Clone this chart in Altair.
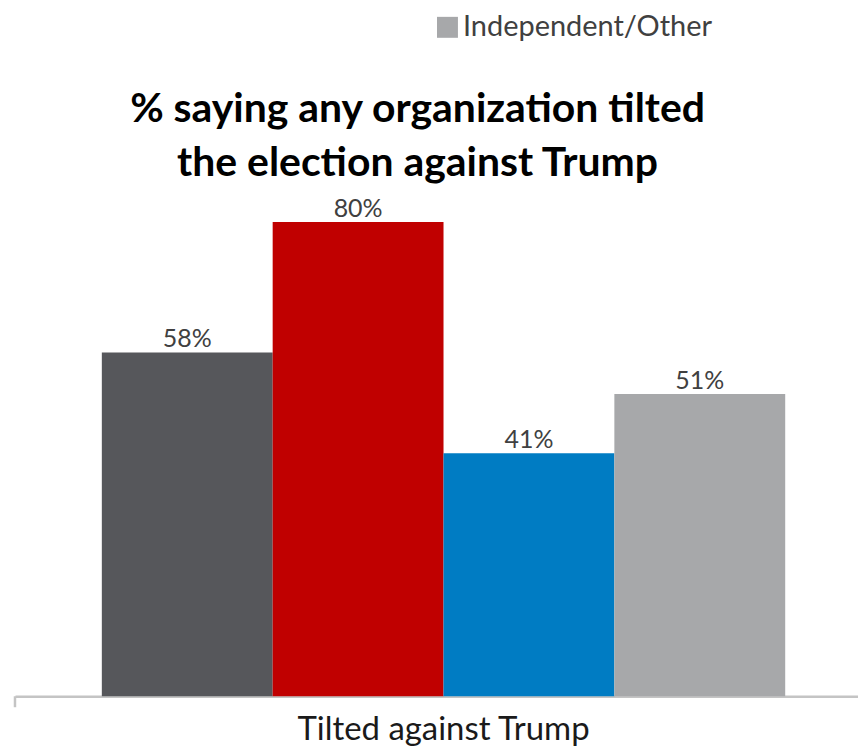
import altair as alt
import pandas as pd

parties = ["Total", "Republican", "Democrat", "Independent/Other"]
values = [58, 80, 41, 51]
labels = ["58%", "80%", "41%", "51%"]
group_label = "Tilted against Trump"
colors = ["#56575b", "#c00000", "#007cc3", "#a7a8aa"]
legend_values = ["Independent/Other"]
title_lines = ["% saying any organization tilted", "the election against Trump"]

df = pd.DataFrame({
    "group": [group_label] * len(parties),
    "party": parties,
    "value": values,
    "label": labels,
})

W, H = 845, 505
FONT = "Lato"

base = alt.Chart(df).encode(
    x=alt.X(
        "group:N",
        scale=alt.Scale(paddingInner=0, paddingOuter=0.1168, align=0.544),
        axis=alt.Axis(
            title=None, labelAngle=0, ticks=False, labelFontSize=33,
            labelFont=FONT, labelColor="#1a1a1a", labelPadding=17,
            labelLimit=0, domainColor="#c4c4c4", domainWidth=2.5,
        ),
    ),
    xOffset=alt.XOffset("party:N", sort=parties,
                        scale=alt.Scale(paddingInner=0, paddingOuter=0)),
    y=alt.Y("value:Q", scale=alt.Scale(domain=[0, 85]), axis=None),
)

bars = base.mark_bar().encode(
    color=alt.Color(
        "party:N",
        sort=parties,
        scale=alt.Scale(domain=parties, range=colors),
        legend=alt.Legend(
            values=legend_values, orient="none", legendX=419, legendY=-180,
            title=None, symbolType="square", symbolSize=441, symbolStrokeWidth=0,
            labelFontSize=29, labelFont=FONT, labelColor="#404040",
            labelOffset=1, symbolOpacity=1, labelLimit=0,
        ),
    )
)

text = base.mark_text(baseline="alphabetic", dy=-5, fontSize=25, font=FONT,
                      color="#404040").encode(text="label:N")

tick_df = pd.DataFrame({"group": [group_label]})
tick = alt.Chart(tick_df).mark_rule(color="#c4c4c4", strokeWidth=2.5).encode(
    x=alt.value(0), y=alt.value(H), y2=alt.value(H + 11)
)

chart = alt.layer(bars, text, tick).properties(
    width=W,
    height=H,
    padding={"left": 5, "top": 4, "right": 0, "bottom": 2},
    title=alt.Title(
        title_lines, fontSize=41, font=FONT, fontWeight="bold", color="#000000",
        anchor="middle", dx=-19, offset=-173, lineHeight=55,
    ),
).configure(background="white", view=alt.ViewConfig(stroke="transparent", strokeWidth=0))

chart.save("out.html", embed_options={"renderer": "svg", "actions": False})
